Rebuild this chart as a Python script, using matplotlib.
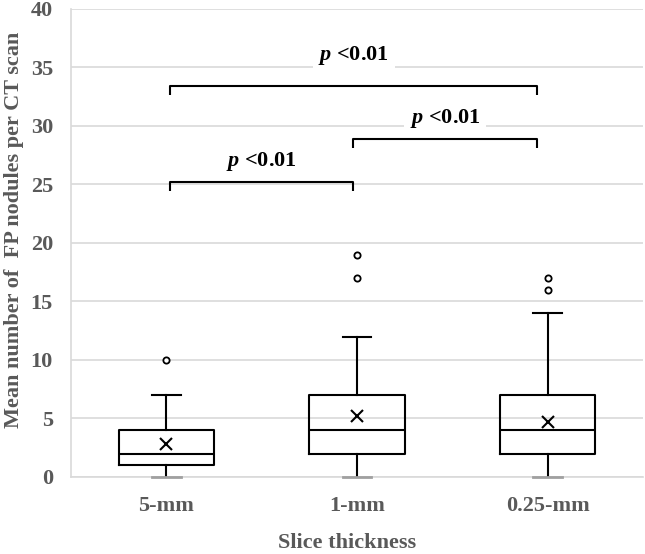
import matplotlib.pyplot as plt

plt.rcParams['font.family'] = ['Liberation Serif', 'DejaVu Serif']
plt.rcParams['mathtext.fontset'] = 'custom'
plt.rcParams['mathtext.it'] = 'Liberation Serif:italic:bold'
plt.rcParams['mathtext.rm'] = 'Liberation Serif:bold'

# Dados
categorias = ['5-mm', '1-mm', '0.25-mm']
minimos = [0, 0, 0]
q1 = [1, 2, 2]
medianas = [2, 4, 4]
q3 = [4, 7, 7]
maximos = [7, 12, 14]
medias = [2.8, 5.2, 4.7]
outliers = [[10], [17, 19], [16, 17]]

# Comparações (índices dos grupos) e alturas das chaves
comparacoes = [(0, 1), (1, 2), (0, 2)]
alturas = [25.2, 28.9, 33.4]
rotulo = r'$p$ <0.01'

cinza = '#595959'
grade = '#d9d9d9'

fig = plt.figure(figsize=(6.45, 5.54), dpi=100)
ax = fig.add_axes([0.110, 0.139, 0.887, 0.845])

stats = []
for i in range(len(categorias)):
    stats.append(dict(med=medianas[i], q1=q1[i], q3=q3[i], whislo=minimos[i],
                      whishi=maximos[i], mean=medias[i], fliers=outliers[i]))

x = list(range(len(categorias)))
bp = ax.bxp(stats, positions=x, widths=0.5, showmeans=True, patch_artist=False,
            boxprops=dict(color='black', linewidth=1.5),
            medianprops=dict(color='black', linewidth=1.5),
            whiskerprops=dict(color='black', linewidth=1.5),
            capprops=dict(color='black', linewidth=1.5),
            capwidths=0.15,
            meanprops=dict(marker='x', markeredgecolor='black', markersize=9, markeredgewidth=1.5),
            flierprops=dict(marker='o', markerfacecolor='white', markeredgecolor='black',
                            markersize=4.5, markeredgewidth=1.3),
            zorder=3)
# tampas inferiores em cinza
for cap in bp['caps'][0::2]:
    cap.set_color('#a0a0a0')
    cap.set_linewidth(2)
    cap.set_zorder(4)
    cap.set_clip_on(False)

# Chaves de significância
ajuste = {0: 0.02, 1: -0.02, 2: -0.055}
for (a, b), h in zip(comparacoes, alturas):
    xa, xb = a + ajuste[a], b + ajuste[b]
    ax.plot([xa, xa, xb, xb], [h - 0.8, h, h, h - 0.8], color='black', linewidth=1.5,
            zorder=4, solid_capstyle='butt')
    ax.text((xa + xb) / 2, h + 1.75 + (0.9 if b - a == 2 else 0), rotulo, ha='center', va='center',
            fontsize=16, fontweight='bold', color='black', zorder=5,
            bbox=dict(facecolor='white', edgecolor='none', pad=4))

ax.set_xlim(-0.5, 2.5)
ax.set_ylim(0, 40)
ax.set_yticks(range(0, 41, 5))
ax.set_xticks(x)
ax.set_xticklabels(categorias)
ax.yaxis.grid(True, color=grade, linewidth=1.2, zorder=0)
ax.set_axisbelow(True)
for s in ['top', 'right']:
    ax.spines[s].set_visible(False)
ax.spines['left'].set_color(grade)
ax.spines['left'].set_linewidth(1.2)
ax.spines['bottom'].set_color(grade)
ax.spines['bottom'].set_linewidth(1.2)
ax.tick_params(length=0, labelsize=16, labelcolor=cinza)
ax.tick_params(axis='y', pad=13)
ax.tick_params(axis='x', pad=14)
for t in ax.get_xticklabels() + ax.get_yticklabels():
    t.set_fontweight('bold')

ax.set_ylabel('Mean number of  FP nodules per CT scan', fontsize=16, fontweight='bold',
              color=cinza)
ax.yaxis.set_label_coords(-0.099, 0.528)
ax.yaxis.label.set_va('center')
ax.set_xlabel('Slice thickness', fontsize=16, fontweight='bold', color=cinza)
ax.xaxis.set_label_coords(0.4825, -0.141)
ax.xaxis.label.set_va('center')

fig.savefig('out.png', dpi=100)
